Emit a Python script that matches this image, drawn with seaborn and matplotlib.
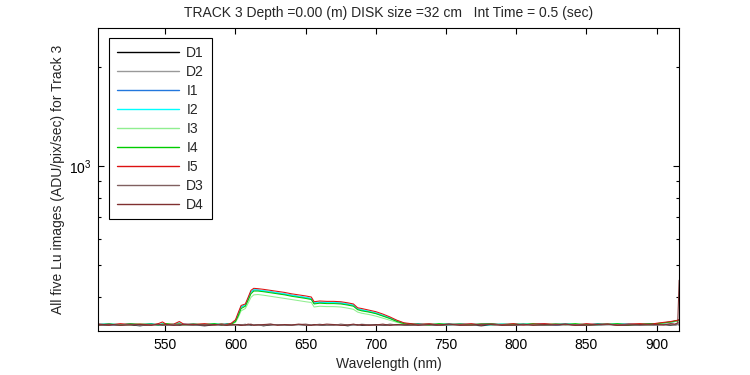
import numpy as np
import pandas as pd
import matplotlib
matplotlib.use("Agg")
import matplotlib.pyplot as plt
from matplotlib.ticker import NullFormatter, LogLocator, FixedLocator
import seaborn as sns

# ---------------- data ----------------
wavelength = [502.5, 510, 518, 525, 532, 540, 545, 548, 551, 556,
              560, 563, 570, 578, 585, 590, 594, 597, 600, 602,
              604, 607, 609, 611, 613, 616, 620, 625, 630, 635,
              640, 645, 650, 654, 656, 660, 665, 670, 675, 680,
              684, 687, 690, 695, 700, 705, 710, 715, 720, 725,
              730, 738, 745, 752, 760, 768, 775, 782, 790, 798,
              805, 812, 820, 828, 835, 842, 850, 858, 865, 872,
              880, 888, 895, 900, 905, 910, 913, 915, 916]

D1 = [330, 329, 331, 330, 328, 331, 330, 329, 331, 330,
      329, 331, 330, 328, 330, 331, 329, 330, 331, 330,
      329, 331, 330, 329, 331, 330, 328, 330, 331, 329,
      330, 331, 329, 330, 331, 330, 329, 331, 330, 328,
      330, 331, 329, 330, 331, 329, 330, 331, 330, 329,
      331, 330, 329, 330, 331, 330, 328, 330, 331, 329,
      330, 331, 330, 329, 331, 330, 329, 330, 331, 330,
      329, 331, 330, 330, 331, 329, 330, 331, 330]

D2 = [331, 330, 329, 331, 330, 332, 329, 330, 331, 329,
      330, 332, 329, 331, 330, 329, 331, 330, 329, 331,
      330, 332, 329, 330, 331, 329, 330, 332, 330, 329,
      331, 330, 329, 331, 330, 332, 329, 330, 331, 330,
      329, 330, 332, 330, 329, 331, 330, 329, 331, 330,
      330, 329, 331, 332, 330, 329, 331, 330, 332, 330,
      329, 331, 330, 329, 332, 330, 331, 329, 330, 331,
      330, 329, 331, 330, 332, 330, 329, 331, 332]

I1 = [332, 331, 330, 332, 331, 333, 330, 331, 332, 330,
      333, 332, 330, 331, 332, 330, 333, 332, 339, 356,
      374, 379, 396, 415, 421, 421, 418, 416, 412, 409,
      406, 402, 399, 396, 384, 386, 386, 385, 384, 381,
      378, 369, 366, 362, 358, 352, 346, 339, 334, 331,
      333, 331, 332, 330, 333, 331, 332, 333, 330, 332,
      331, 332, 333, 330, 332, 331, 330, 333, 331, 332,
      333, 331, 332, 332, 334, 336, 338, 340, 342]

I2 = [331, 333, 331, 332, 330, 332, 331, 333, 330, 332,
      335, 331, 332, 330, 332, 333, 331, 333, 340, 357,
      375, 379, 397, 416, 422, 421, 419, 416, 413, 410,
      406, 403, 400, 397, 385, 387, 386, 386, 385, 382,
      379, 369, 367, 363, 359, 353, 347, 340, 334, 332,
      330, 332, 331, 333, 330, 332, 331, 330, 333, 331,
      333, 331, 330, 332, 333, 331, 332, 330, 333, 332,
      331, 330, 332, 333, 335, 337, 339, 341, 342]

I3 = [330, 332, 331, 330, 333, 331, 332, 330, 332, 331,
      333, 331, 330, 332, 331, 333, 330, 331, 336, 348,
      364, 370, 384, 400, 407, 408, 406, 403, 400, 397,
      394, 391, 388, 386, 374, 376, 375, 375, 374, 371,
      368, 361, 358, 355, 351, 346, 341, 336, 332, 331,
      331, 333, 331, 330, 332, 331, 333, 330, 332, 331,
      332, 330, 332, 333, 330, 332, 331, 330, 333, 331,
      332, 331, 330, 332, 334, 336, 338, 339, 340]

I4 = [331, 332, 330, 333, 331, 332, 330, 332, 333, 331,
      332, 330, 332, 331, 333, 330, 332, 332, 338, 352,
      370, 376, 392, 410, 418, 418, 416, 413, 410, 407,
      403, 400, 397, 394, 382, 384, 383, 383, 382, 379,
      376, 367, 364, 361, 357, 351, 345, 338, 333, 332,
      332, 330, 333, 331, 332, 330, 332, 333, 330, 332,
      331, 333, 330, 332, 331, 333, 330, 332, 331, 333,
      330, 332, 333, 333, 335, 337, 339, 340, 341]

I5 = [332, 330, 333, 331, 332, 330, 333, 337, 331, 332,
      338, 332, 331, 333, 330, 332, 331, 334, 342, 360,
      378, 382, 400, 420, 426, 425, 423, 420, 417, 414,
      410, 407, 404, 401, 388, 390, 389, 389, 388, 385,
      382, 372, 370, 366, 362, 356, 349, 341, 335, 333,
      331, 333, 330, 332, 331, 333, 330, 332, 331, 333,
      330, 332, 333, 331, 332, 330, 333, 331, 332, 330,
      332, 333, 331, 334, 336, 338, 340, 341, 343]

D3 = [329, 331, 330, 332, 329, 330, 331, 330, 329, 331,
      332, 330, 329, 331, 330, 332, 330, 329, 331, 330,
      331, 329, 330, 332, 330, 331, 329, 330, 331, 330,
      329, 331, 332, 330, 329, 331, 330, 329, 332, 330,
      331, 329, 330, 331, 330, 329, 332, 330, 331, 329,
      330, 332, 329, 331, 330, 329, 331, 332, 330, 329,
      331, 330, 329, 332, 330, 331, 329, 330, 332, 330,
      331, 329, 330, 331, 330, 332, 331, 333, 336]

D4 = [330, 332, 329, 330, 331, 329, 332, 330, 331, 329,
      330, 331, 332, 329, 331, 330, 329, 332, 330, 331,
      329, 330, 332, 331, 329, 330, 331, 332, 329, 331,
      330, 332, 330, 329, 331, 330, 332, 331, 329, 330,
      332, 330, 331, 329, 330, 332, 329, 331, 330, 332,
      329, 331, 330, 332, 329, 330, 332, 331, 329, 330,
      332, 329, 331, 330, 332, 329, 330, 331, 332, 329,
      330, 331, 332, 331, 330, 333, 332, 335, 451]

series_names = ["D1", "D2", "I1", "I2", "I3", "I4", "I5", "D3", "D4"]
series_values = [D1, D2, I1, I2, I3, I4, I5, D3, D4]
series_colors = ["#000000", "#999999", "#2277dd", "#00ffff", "#90ee90",
                 "#00cc00", "#dd1111", "#806060", "#803030"]

title_text = "TRACK 3 Depth =0.00 (m) DISK size =32 cm   Int Time = 0.5 (sec)"
xlabel_text = "Wavelength (nm)"
ylabel_text = "All five Lu images (ADU/pix/sec) for Track 3"
x_ticks = [550, 600, 650, 700, 750, 800, 850, 900]

# ---------------- plot ----------------
sns.set_theme(style="ticks")
plt.rcParams["font.family"] = ["Liberation Sans", "DejaVu Sans"]
plt.rcParams["axes.linewidth"] = 0.8

frames = []
for name, vals in zip(series_names, series_values):
    assert len(vals) == len(wavelength), name
    frames.append(pd.DataFrame({"wl": wavelength, "val": vals, "series": name}))
df = pd.concat(frames, ignore_index=True)

fig = plt.figure(figsize=(7.5, 3.75), dpi=100)
ax = fig.add_axes([0.1311, 0.1181, 0.7746, 0.8064])

sns.lineplot(data=df, x="wl", y="val", hue="series", hue_order=series_names,
             palette=dict(zip(series_names, series_colors)), linewidth=0.75,
             ax=ax, legend=True, estimator=None, sort=False)

ax.set_yscale("log")
ax.set_xlim(502.3, 916.1)
ax.set_ylim(317, 2612)

ax.xaxis.set_major_locator(FixedLocator(x_ticks))
ax.yaxis.set_major_locator(LogLocator(base=10))
ax.yaxis.set_minor_locator(LogLocator(base=10, subs=np.arange(2, 10)))
ax.yaxis.set_minor_formatter(NullFormatter())

ax.tick_params(axis="both", which="both", direction="in", top=True, right=True,
               colors="black", labelsize=10, width=0.8)
ax.tick_params(axis="both", which="major", length=4, pad=5)
ax.tick_params(axis="y", which="minor", length=2.5)
ax.tick_params(axis="x", which="minor", bottom=False, top=False)

for sp in ax.spines.values():
    sp.set_visible(True)
    sp.set_color("black")
    sp.set_linewidth(0.8)

ax.set_xlabel(xlabel_text, fontsize=10, labelpad=4)
ax.set_ylabel(ylabel_text, fontsize=10, labelpad=3)
ax.set_title(title_text, fontsize=10, pad=8)

handles, labels = ax.get_legend_handles_labels()
leg = ax.legend(handles, labels, loc="upper left", bbox_to_anchor=(0.0187, 0.968),
                borderaxespad=0, fontsize=10, frameon=True, fancybox=False,
                framealpha=1, edgecolor="black", handlelength=4.5,
                handletextpad=0.5, labelspacing=0.36, borderpad=0.55)
leg.get_frame().set_linewidth(0.8)
for lh in leg.get_lines():
    lh.set_linewidth(1.0)

fig.savefig("out.png", dpi=100, facecolor="white")
